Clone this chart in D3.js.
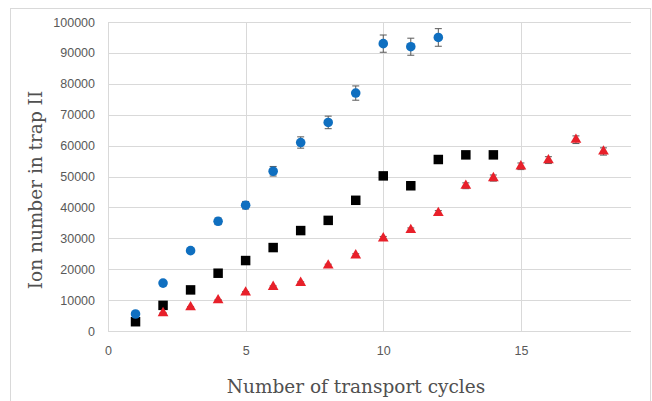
<!DOCTYPE html>
<html><head><meta charset="utf-8">
<script src="https://cdn.jsdelivr.net/npm/d3@7"></script>
<style>body{margin:0;background:#fff}svg{display:block}</style>
</head><body><svg id="c" width="652" height="401"></svg>
<script>
const xTicks = [0, 5, 10, 15];
const yTicks = [0, 10000, 20000, 30000, 40000, 50000, 60000, 70000, 80000, 90000, 100000];

const blueX = [1, 2, 3, 4, 5, 6, 7, 8, 9, 10, 11, 12];
const blueY = [5500, 15500, 26000, 35500, 40700, 51700, 61000, 67500, 77000, 93000, 92000, 95000];
const blueErr = [170, 470, 780, 1070, 1220, 1550, 1830, 2030, 2310, 2790, 2760, 2850];

const blackX = [1, 2, 3, 4, 5, 6, 7, 8, 9, 10, 11, 12, 13, 14];
const blackY = [3000, 8300, 13300, 18700, 22800, 27000, 32500, 35800, 42300, 50200, 47000, 55500, 57000, 57000];

const redX = [2, 3, 4, 5, 6, 7, 8, 9, 10, 11, 12, 13, 14, 15, 16, 17, 18];
const redY = [5800, 7700, 10000, 12500, 14300, 15600, 21200, 24500, 30000, 32700, 38200, 47000, 49500, 53300, 55300, 61900, 58100];
const redErr = [120, 150, 200, 250, 290, 310, 420, 490, 600, 650, 760, 940, 990, 1070, 1110, 1240, 1170];

const svg = d3.select("#c");
const L = 108, R = 631, T = 22, B = 331;
const x = d3.scaleLinear().domain([0, 19]).range([L, R]);
const y = d3.scaleLinear().domain([0, 100000]).range([B, T]);

// chart border
svg.append("rect").attr("x", 10.5).attr("y", 8.5).attr("width", 640).attr("height", 400)
  .attr("fill", "none").attr("stroke", "#d9d9d9");

const grid = svg.append("g");
grid.selectAll("line.h").data(yTicks).join("line")
  .attr("x1", L).attr("x2", R).attr("y1", d => Math.round(y(d)) + 0.5).attr("y2", d => Math.round(y(d)) + 0.5)
  .attr("stroke", "#d9d9d9").attr("stroke-width", 1);
grid.selectAll("line.v").data(xTicks).join("line")
  .attr("x1", d => Math.round(x(d)) + 0.5).attr("x2", d => Math.round(x(d)) + 0.5).attr("y1", T).attr("y2", B)
  .attr("stroke", "#d9d9d9").attr("stroke-width", 1);

const tickFont = "'Liberation Sans', Arial, sans-serif";
const yAxis = d3.axisLeft(y).tickValues(yTicks).tickSize(0).tickPadding(13).tickFormat(d3.format("d"));
const yg = svg.append("g").attr("transform", `translate(${L},0)`).call(yAxis);
yg.select(".domain").remove();
yg.selectAll("text").attr("fill", "#595959").style("font-family", tickFont).style("font-size", "12.5px");

const xAxis = d3.axisBottom(x).tickValues(xTicks).tickSize(0).tickPadding(15).tickFormat(d3.format("d"));
const xg = svg.append("g").attr("transform", `translate(0,${B})`).call(xAxis);
xg.select(".domain").remove();
xg.selectAll("text").attr("fill", "#595959").style("font-family", tickFont).style("font-size", "12.5px");

// titles
const titleFont = "'DejaVu Serif', 'Liberation Serif', serif";
svg.append("text").attr("x", 356).attr("y", 393).attr("text-anchor", "middle")
  .attr("fill", "#505050").style("font-family", titleFont).style("font-size", "18.5px")
  .text("Number of transport cycles");
svg.append("text").attr("transform", "translate(42,190) rotate(-90)").attr("text-anchor", "middle")
  .attr("fill", "#505050").style("font-family", titleFont).style("font-size", "18.5px")
  .text("Ion number in trap II");

// error bars
function errBars(xs, ys, es, color) {
  const g = svg.append("g").attr("stroke", color).attr("stroke-width", 1);
  const d = xs.map((v, i) => ({x: v, y: ys[i], e: es[i]}));
  g.selectAll("line.s").data(d).join("line")
    .attr("x1", p => x(p.x)).attr("x2", p => x(p.x)).attr("y1", p => y(p.y - p.e)).attr("y2", p => y(p.y + p.e));
  g.selectAll("line.t").data(d).join("line")
    .attr("x1", p => x(p.x) - 3.5).attr("x2", p => x(p.x) + 3.5).attr("y1", p => y(p.y + p.e)).attr("y2", p => y(p.y + p.e));
  g.selectAll("line.b").data(d).join("line")
    .attr("x1", p => x(p.x) - 3.5).attr("x2", p => x(p.x) + 3.5).attr("y1", p => y(p.y - p.e)).attr("y2", p => y(p.y - p.e));
}
errBars(blueX, blueY, blueErr, "#595959");
errBars(redX, redY, redErr, "#595959");

const sq = d3.symbol().type(d3.symbolSquare).size(90);
const ci = d3.symbol().type(d3.symbolCircle).size(72);
const tr = d3.symbol().type(d3.symbolTriangle).size(50);

svg.append("g").selectAll("path").data(blackX.map((v, i) => [v, blackY[i]])).join("path")
  .attr("d", sq).attr("transform", d => `translate(${x(d[0])},${y(d[1])})`).attr("fill", "#000");
svg.append("g").selectAll("path").data(redX.map((v, i) => [v, redY[i]])).join("path")
  .attr("d", tr).attr("transform", d => `translate(${x(d[0])},${y(d[1])})`).attr("fill", "#e8202a");
svg.append("g").selectAll("path").data(blueX.map((v, i) => [v, blueY[i]])).join("path")
  .attr("d", ci).attr("transform", d => `translate(${x(d[0])},${y(d[1])})`).attr("fill", "#0f6fc0");
</script></body></html>
